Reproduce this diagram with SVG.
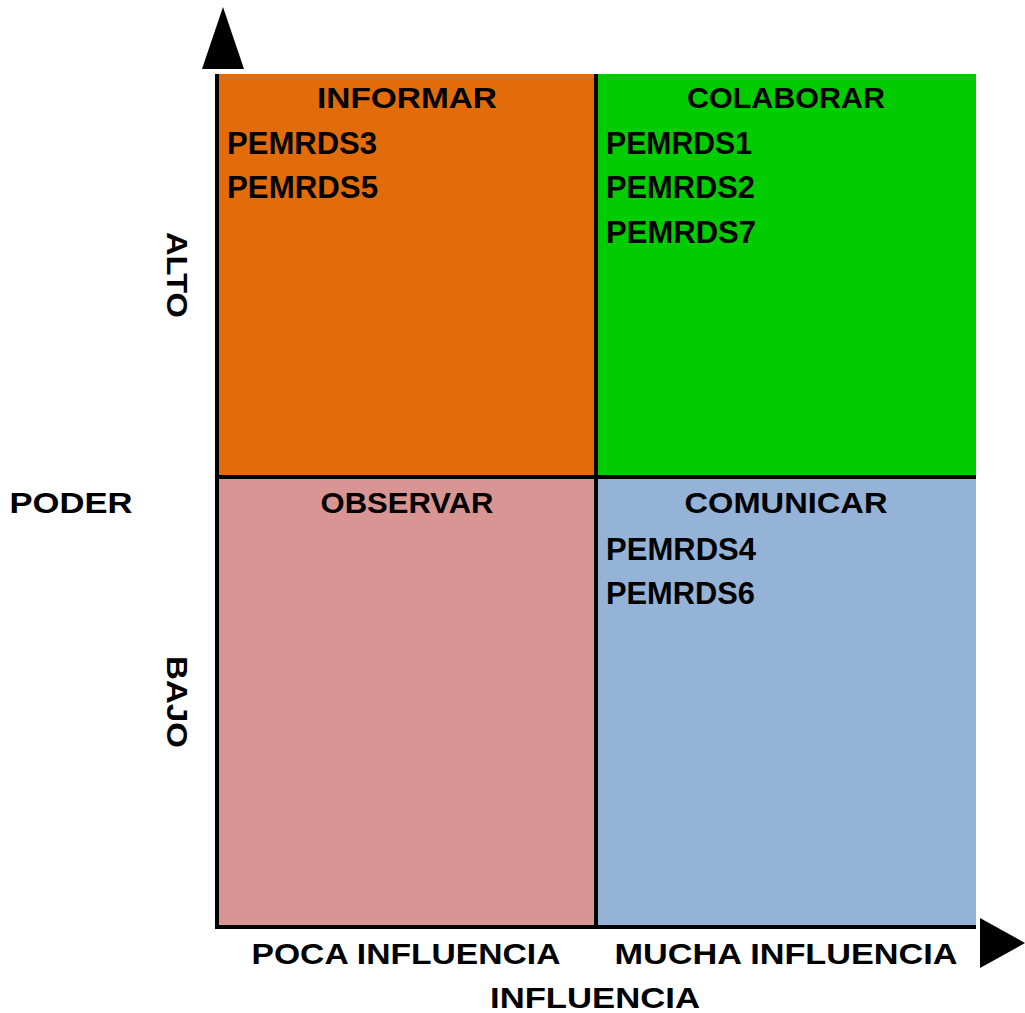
<svg xmlns="http://www.w3.org/2000/svg" width="1025" height="1013" viewBox="0 0 1025 1013">
<style>
text{font-family:"Comic Sans MS","Liberation Sans","DejaVu Sans",sans-serif;font-weight:bold;fill:#000}
.t{font-size:30px;text-anchor:middle}
.i{font-size:32px}
.a{font-size:30px;text-anchor:middle}
.ln{stroke:#000;stroke-width:4;fill:none}
</style>
<rect width="1025" height="1013" fill="#fff"/>
<g id="q-informar">
<rect x="217" y="74" width="379" height="403" fill="#E36C0A"/>
<text class="t" x="407" y="108" textLength="180" lengthAdjust="spacingAndGlyphs">INFORMAR</text>
<text class="i" x="227" y="154" textLength="150" lengthAdjust="spacingAndGlyphs">PEMRDS3</text>
<text class="i" x="227" y="198" textLength="151" lengthAdjust="spacingAndGlyphs">PEMRDS5</text>
</g>
<g id="q-colaborar">
<rect x="596" y="74" width="380" height="403" fill="#00CC00"/>
<text class="t" x="786" y="108" textLength="198" lengthAdjust="spacingAndGlyphs">COLABORAR</text>
<text class="i" x="606" y="154" textLength="146" lengthAdjust="spacingAndGlyphs">PEMRDS1</text>
<text class="i" x="606" y="198" textLength="149" lengthAdjust="spacingAndGlyphs">PEMRDS2</text>
<text class="i" x="606" y="243" textLength="150" lengthAdjust="spacingAndGlyphs">PEMRDS7</text>
</g>
<g id="q-observar">
<rect x="217" y="477" width="379" height="450" fill="#D99594"/>
<text class="t" x="407" y="513" textLength="173" lengthAdjust="spacingAndGlyphs">OBSERVAR</text>
</g>
<g id="q-comunicar">
<rect x="596" y="477" width="380" height="450" fill="#95B3D7"/>
<text class="t" x="786" y="513" textLength="203" lengthAdjust="spacingAndGlyphs">COMUNICAR</text>
<text class="i" x="606" y="560" textLength="150" lengthAdjust="spacingAndGlyphs">PEMRDS4</text>
<text class="i" x="606" y="604" textLength="149" lengthAdjust="spacingAndGlyphs">PEMRDS6</text>
</g>
<g id="connectors">
<line class="ln" x1="217" y1="74" x2="217" y2="929"/>
<line class="ln" x1="215" y1="927" x2="976" y2="927"/>
<line class="ln" x1="596" y1="74" x2="596" y2="927"/>
<line class="ln" x1="217" y1="477" x2="976" y2="477"/>
<polygon points="223,7 244,69 202,69" fill="#000"/>
<polygon points="980,918 1025,943 980,968" fill="#000"/>
</g>
<g id="labels">
<text class="a" x="71" y="513" textLength="123" lengthAdjust="spacingAndGlyphs">PODER</text>
<text class="a" transform="translate(167,275) rotate(90)" x="0" y="0" textLength="86" lengthAdjust="spacingAndGlyphs">ALTO</text>
<text class="a" transform="translate(167,702) rotate(90)" x="0" y="0" textLength="92" lengthAdjust="spacingAndGlyphs">BAJO</text>
<text class="a" x="406" y="964" textLength="309" lengthAdjust="spacingAndGlyphs">POCA INFLUENCIA</text>
<text class="a" x="786" y="964" textLength="343" lengthAdjust="spacingAndGlyphs">MUCHA INFLUENCIA</text>
<text class="a" x="595" y="1008" textLength="210" lengthAdjust="spacingAndGlyphs">INFLUENCIA</text>
</g>
</svg>
